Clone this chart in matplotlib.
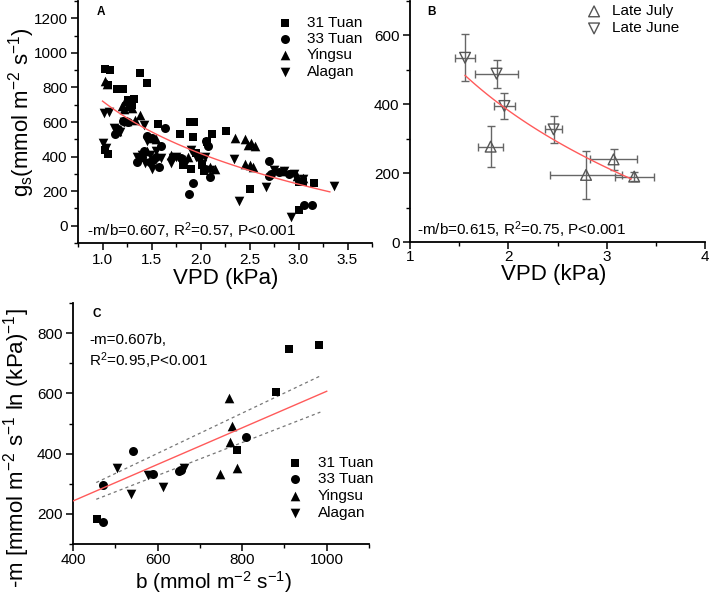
import numpy as np
import matplotlib
matplotlib.use("Agg")
import matplotlib.pyplot as plt
from matplotlib.ticker import MultipleLocator

plt.rcParams['font.family'] = ['Liberation Sans', 'DejaVu Sans']
plt.rcParams['mathtext.default'] = 'regular'

# ---------------- Panel A data (VPD kPa, gs mmol m-2 s-1) ----------------
a_31_x = [1.03, 1.08, 1.06, 1.15, 1.21, 1.26, 1.32, 1.38, 1.45, 1.03, 1.06, 1.57, 1.79, 1.89,
          1.93, 1.92, 2.07, 2.12, 2.26, 1.90, 1.82, 2.02, 1.95, 2.04, 2.51, 3.01, 3.00, 3.05,
          3.16, 1.30]
a_31_y = [905, 901, 815, 791, 791, 730, 735, 886, 826, 440, 415, 587, 531, 600,
          600, 511, 486, 531, 550, 328, 350, 350, 420, 318, 214, 91, 255, 255,
          245, 700]
a_33_x = [1.13, 1.16, 1.21, 1.26, 1.35, 1.45, 1.50, 1.42, 1.48, 1.58, 1.60, 1.64, 1.55, 1.80,
          1.88, 1.92, 2.08, 2.10, 2.05, 1.98, 2.70, 2.72, 2.70, 2.80, 2.90, 3.06, 3.14, 1.40,
          1.52, 2.06]
a_33_y = [530, 560, 603, 600, 370, 520, 510, 430, 370, 340, 460, 567, 400, 390,
          185, 250, 460, 280, 330, 400, 375, 300, 285, 310, 300, 120, 120, 400,
          380, 490]
a_ying_x = [1.03, 1.05, 1.20, 1.23, 1.26, 1.28, 1.30, 1.22, 1.33, 1.38, 1.15, 1.50, 1.55, 1.45,
            2.10, 2.15, 1.87, 2.35, 2.45, 2.48, 2.52, 2.56, 2.45, 2.50, 2.54, 3.05, 2.98, 2.85,
            1.25, 1.70]
a_ying_y = [835, 820, 690, 720, 700, 690, 680, 675, 610, 640, 550, 510, 500, 430,
            340, 330, 400, 510, 500, 465, 480, 460, 355, 350, 340, 275, 290, 315,
            605, 410]
a_alag_x = [1.02, 1.07, 1.00, 1.04, 1.12, 1.18, 1.22, 1.35, 1.40, 1.42, 1.45, 1.50, 1.48, 1.55,
            1.60, 1.70, 1.72, 1.80, 1.85, 1.90, 1.95, 2.05, 2.10, 2.02, 2.34, 2.39, 2.67, 2.92,
            3.36, 2.75, 2.85, 2.95, 3.05, 1.75, 1.43]
a_alag_y = [650, 660, 480, 450, 565, 545, 600, 395, 410, 580, 490, 330, 410, 430,
            390, 360, 390, 380, 370, 440, 400, 395, 320, 355, 384, 143, 226, 52,
            230, 320, 315, 300, 270, 395, 365]
a_fit_b = 721          # intercept of gs = b - m ln(VPD)
a_fit_ratio = 0.607    # -m/b
a_fit_range = [1.0, 3.32]

# ---------------- Panel B data ----------------
b_july_x = [1.82, 2.79, 3.07, 3.28]
b_july_y = [277, 195, 240, 190]
b_july_xerr = [0.13, 0.37, 0.24, 0.20]
b_july_yerr = [59, 69, 31, 12]
b_june_x = [1.56, 1.88, 1.96, 2.46]
b_june_y = [535, 489, 395, 327]
b_june_xerr = [0.10, 0.22, 0.11, 0.09]
b_june_yerr = [68, 41, 39, 40]
b_fit_b = 666
b_fit_ratio = 0.615
b_fit_range = [1.56, 3.25]

# ---------------- Panel C data (b, -m) ----------------
c_31_x = [457, 787, 879, 911, 981]
c_31_y = [183, 412, 606, 748, 760]
c_33_x = [471, 472, 542, 589, 651, 656, 810]
c_33_y = [172, 296, 409, 334, 343, 347, 455]
c_ying_x = [769, 777, 771, 747, 787]
c_ying_y = [584, 491, 439, 334, 351]
c_alag_x = [503, 537, 578, 612, 662]
c_alag_y = [351, 265, 329, 290, 353]
c_slope = 0.607
c_upper_slope = 0.668
c_lower_slope = 0.546
c_line_range = [400, 1000]
c_band_range = [455, 985]

series_labels = ['31 Tuan', '33 Tuan', 'Yingsu', 'Alagan']
series_markers = ['s', 'o', '^', 'v']

W, H = 709, 594
fig = plt.figure(figsize=(W / 100, H / 100), dpi=100)


def rect(l, t, r, b):
    return [l / W, 1 - b / H, (r - l) / W, (b - t) / H]


axA = fig.add_axes(rect(78, 1, 372, 243))
axB = fig.add_axes(rect(410, 1, 705, 242))
axC = fig.add_axes(rect(73, 303, 369, 544))

TICK_FS = 11
LAB_FS = 16
red = '#ff5a5a'


def style(ax, pad=2.5):
    for s in ['top', 'right']:
        ax.spines[s].set_visible(False)
    for s in ['left', 'bottom']:
        ax.spines[s].set_linewidth(1.3)
    ax.tick_params(which='major', direction='out', length=5, width=1.1, labelsize=TICK_FS, pad=pad)
    ax.tick_params(which='minor', direction='out', length=3, width=1.0)


# ---- Panel A ----
msize = {'s': 38, 'o': 42, '^': 48, 'v': 48}
for xs, ys, m, lab in zip([a_31_x, a_33_x, a_ying_x, a_alag_x],
                          [a_31_y, a_33_y, a_ying_y, a_alag_y],
                          series_markers, series_labels):
    axA.scatter(xs, ys, marker=m, s=msize[m], c='black', linewidths=0, label=lab, zorder=3)
xf = np.linspace(a_fit_range[0], a_fit_range[1], 100)
axA.plot(xf, a_fit_b * (1 - a_fit_ratio * np.log(xf)), color=red, lw=1.0, zorder=4)
axA.set_xlim(0.75, 3.75)
axA.set_ylim(-100, 1300)
axA.set_xticks([1.0, 1.5, 2.0, 2.5, 3.0, 3.5])
axA.xaxis.set_minor_locator(MultipleLocator(0.25))
axA.set_yticks([0, 200, 400, 600, 800, 1000, 1200])
axA.yaxis.set_minor_locator(MultipleLocator(100))
style(axA)
axA.set_xlabel('VPD (kPa)', fontsize=LAB_FS)
axA.set_ylabel('g$_s$(mmol m$^{-2}$ s$^{-1}$)', fontsize=LAB_FS)
axA.xaxis.set_label_coords(0.503, -0.105)
axA.yaxis.set_label_coords(-0.14, 0.54)
axA.text(0.84, -31, '-m/b=0.607, R$^2$=0.57, P<0.001', fontsize=11, va='center', ha='left')
axA.text(0.065, 0.955, 'A', transform=axA.transAxes, fontsize=8.5, fontweight='bold', va='center')
axA.legend(loc='upper left', bbox_to_anchor=(0.678, 0.94), frameon=False, fontsize=11,
           handlelength=1.0, handletextpad=0.93, labelspacing=0.16, borderpad=0, borderaxespad=0)

# ---- Panel B ----
gray = '#555555'
axB.errorbar(b_july_x, b_july_y, xerr=b_july_xerr, yerr=b_july_yerr, fmt='none',
             ecolor='#666666', elinewidth=1.0, capsize=3, capthick=1.0, zorder=2)
axB.errorbar(b_june_x, b_june_y, xerr=b_june_xerr, yerr=b_june_yerr, fmt='none',
             ecolor='#666666', elinewidth=1.0, capsize=3, capthick=1.0, zorder=2)
hj = axB.scatter(b_july_x, b_july_y, marker='^', s=60, facecolors='none', edgecolors=gray,
                 linewidths=1.0, zorder=3)
hn = axB.scatter(b_june_x, b_june_y, marker='v', s=60, facecolors='none', edgecolors=gray,
                 linewidths=1.0, zorder=3)
xf = np.linspace(b_fit_range[0], b_fit_range[1], 100)
axB.plot(xf, b_fit_b * (1 - b_fit_ratio * np.log(xf)), color=red, lw=1.0, zorder=4)
axB.set_xlim(1, 4)
axB.set_ylim(0, 700)
axB.set_xticks([1, 2, 3, 4])
axB.xaxis.set_minor_locator(MultipleLocator(0.5))
axB.set_yticks([0, 200, 400, 600])
axB.yaxis.set_minor_locator(MultipleLocator(100))
style(axB, pad=0.5)
axB.tick_params(axis='y', pad=2.5)
axB.set_xlabel('VPD (kPa)', fontsize=LAB_FS)
axB.xaxis.set_label_coords(0.486, -0.09)
axB.text(1.07, 36, '-m/b=0.615, R$^2$=0.75, P<0.001', fontsize=11, va='center', ha='left')
axB.text(0.06, 0.955, 'B', transform=axB.transAxes, fontsize=8.5, fontweight='bold', va='center')
axB.legend([hj, hn], ['Late July', 'Late June'], loc='upper left', bbox_to_anchor=(0.598, 0.986),
           frameon=False, fontsize=11, handlelength=1.0, handletextpad=0.67, labelspacing=0.2,
           borderpad=0, borderaxespad=0)

# ---- Panel C ----
for xs, ys, m, lab in zip([c_31_x, c_33_x, c_ying_x, c_alag_x],
                          [c_31_y, c_33_y, c_ying_y, c_alag_y],
                          series_markers, series_labels):
    axC.scatter(xs, ys, marker=m, s=msize[m], c='black', linewidths=0, label=lab, zorder=3)
xl = np.array(c_line_range, dtype=float)
axC.plot(xl, c_slope * xl, color=red, lw=1.0, zorder=4)
xb = np.array(c_band_range, dtype=float)
axC.plot(xb, c_upper_slope * xb, color='#777777', lw=0.9, ls=(0, (2.5, 2.5)), zorder=2)
axC.plot(xb, c_lower_slope * xb, color='#777777', lw=0.9, ls=(0, (2.5, 2.5)), zorder=2)
axC.set_xlim(400, 1100)
axC.set_ylim(100, 900)
axC.set_xticks([400, 600, 800, 1000])
axC.xaxis.set_minor_locator(MultipleLocator(100))
axC.set_yticks([200, 400, 600, 800])
axC.yaxis.set_minor_locator(MultipleLocator(100))
style(axC, pad=1.5)
axC.tick_params(axis='y', pad=2.5)
axC.set_xlabel('b (mmol m$^{-2}$ s$^{-1}$)', fontsize=15)
axC.set_ylabel('-m [mmol m$^{-2}$ s$^{-1}$ ln (kPa)$^{-1}$]', fontsize=16)
axC.xaxis.set_label_coords(0.476, -0.103)
axC.yaxis.set_label_coords(-0.14, 0.40)
axC.text(438, 778, '-m=0.607b,', fontsize=11, va='center', ha='left')
axC.text(438, 708, 'R$^2$=0.95,P<0.001', fontsize=11, va='center', ha='left')
axC.text(0.065, 0.955, 'C', transform=axC.transAxes, fontsize=8.5, fontweight='bold', va='center')
axC.legend(loc='upper left', bbox_to_anchor=(0.724, 0.367), frameon=False, fontsize=11,
           handlelength=1.0, handletextpad=1.0, labelspacing=0.18, borderpad=0, borderaxespad=0)

fig.savefig('out.png', dpi=100)
